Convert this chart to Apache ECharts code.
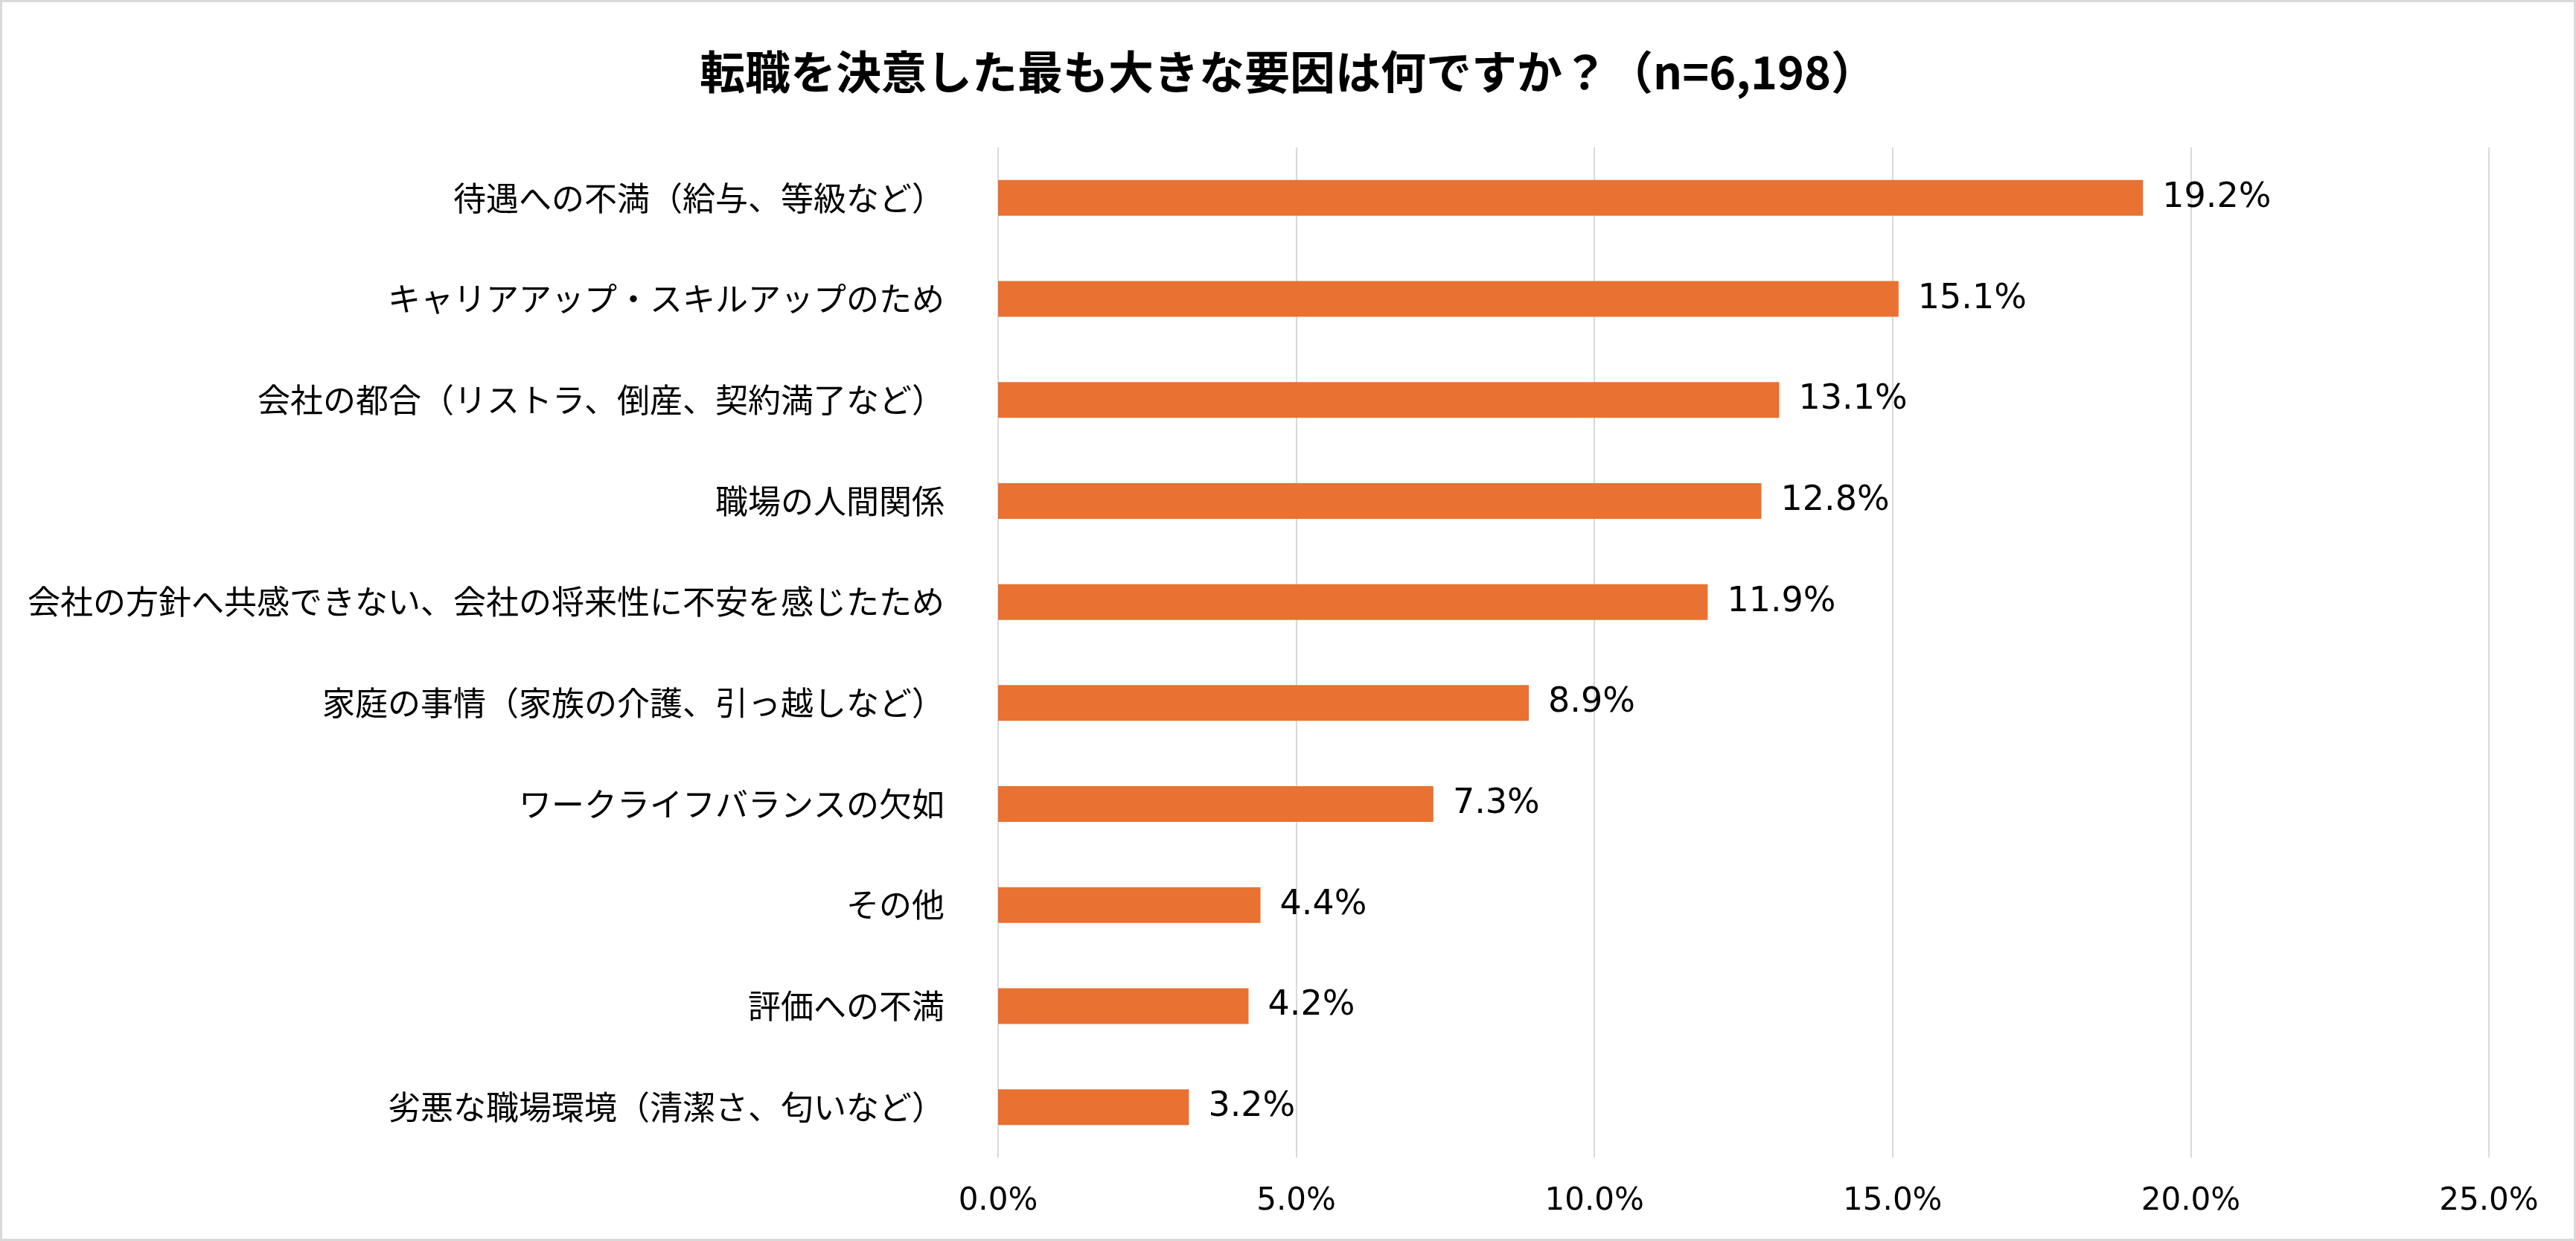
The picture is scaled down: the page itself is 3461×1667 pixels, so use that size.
<!DOCTYPE html>
<html>
<head>
<meta charset="utf-8">
<script src="https://cdn.jsdelivr.net/npm/echarts@6/dist/echarts.min.js"></script>
<style>
  html, body { margin: 0; padding: 0; background: #fff; }
  #chart {
    width: 3461px; height: 1667px;
    box-sizing: border-box;
    border: 3px solid #d9d9d9;
  }
</style>
</head>
<body>
<div id="chart"></div>
<script>
// 転職を決意した最も大きな要因（％）
const titleText = '転職を決意した最も大きな要因は何ですか？（n=6,198）';
const categories = [
    '待遇への不満（給与、等級など）',
    'キャリアアップ・スキルアップのため',
    '会社の都合（リストラ、倒産、契約満了など）',
    '職場の人間関係',
    '会社の方針へ共感できない、会社の将来性に不安を感じたため',
    '家庭の事情（家族の介護、引っ越しなど）',
    'ワークライフバランスの欠如',
    'その他',
    '評価への不満',
    '劣悪な職場環境（清潔さ、匂いなど）'
];
const values = [19.2, 15.1, 13.1, 12.8, 11.9, 8.9, 7.3, 4.4, 4.2, 3.2];
const axisMin = 0;
const axisMax = 25;
const axisStep = 5;

window.addEventListener('load', function() {
    const chart = echarts.init(document.getElementById('chart'));

    const option = {
        animation: false,
        title: {
            text: titleText,
            left: 'center',
            top: 58,
            textStyle: {
                fontFamily: 'Noto Sans CJK JP',
                fontSize: 61,
                fontWeight: 'bold',
                color: '#000'
            }
        },
        grid: {
            left: 1338,
            right: 114,
            top: 195,
            bottom: 109,
            containLabel: false
        },
        xAxis: {
            type: 'value',
            min: axisMin,
            max: axisMax,
            interval: axisStep,
            axisLine: { show: false },
            axisTick: { show: false },
            splitLine: { lineStyle: { color: '#d9d9d9', width: 2 } },
            axisLabel: {
                margin: 38,
                fontFamily: 'DejaVu Sans',
                fontSize: 42,
                color: '#000',
                formatter: v => v.toFixed(1) + '%'
            }
        },
        yAxis: {
            type: 'category',
            inverse: true,
            data: categories,
            axisLine: { show: false },
            axisTick: { show: false },
            axisLabel: {
                margin: 72,
                fontFamily: 'Noto Sans CJK JP',
                fontSize: 44,
                color: '#000'
            }
        },
        series: [
            {
                type: 'bar',
                data: values,
                barWidth: 48,
                itemStyle: { color: '#E97132' },
                label: {
                    show: true,
                    position: 'right',
                    distance: 26,
                    fontFamily: 'DejaVu Sans',
                    fontSize: 46,
                    color: '#000',
                    formatter: p => p.value.toFixed(1) + '%'
                }
            }
        ]
    };

    chart.setOption(option);
});
</script>
</body>
</html>
